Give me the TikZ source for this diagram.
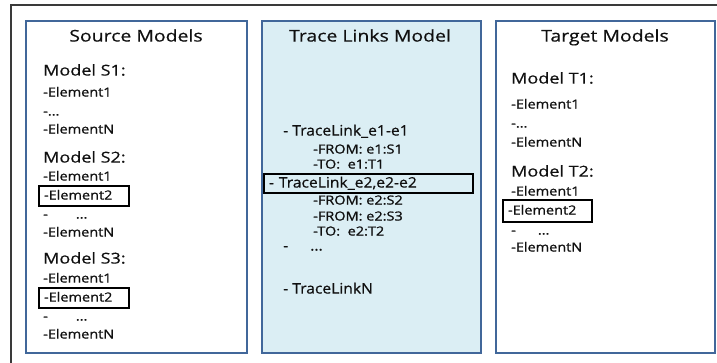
\documentclass[tikz,border=0pt]{standalone}
\usepackage{fontspec}
\setmainfont{Open Sans}
\newfontfamily\wfont[FakeStretch=1.2, FakeBold=0.5]{Open Sans}
\newfontfamily\bfont[FakeStretch=1.15, FakeBold=1.1]{Open Sans}
\newfontfamily\nfont[FakeStretch=1.08, FakeBold=0.5]{Open Sans}
\definecolor{panelblue}{HTML}{41679A}
\definecolor{tracefill}{HTML}{DBEEF4}
\definecolor{framegray}{HTML}{3A3A3A}
\definecolor{ink}{HTML}{101010}
\begin{document}
\begin{tikzpicture}[x=1pt,y=-1pt,
  panel/.style={draw=panelblue, line width=1.6pt, anchor=north west, inner sep=0pt},
  txt/.style={anchor=west, inner sep=0pt, text=ink, text height=0.714em, text depth=0pt},
  ttl/.style={txt, anchor=center, font=\wfont\fontsize{16.2}{18}\selectfont},
  model/.style={txt, font=\wfont\fontsize{15}{17}\selectfont},
  elem/.style={txt, font=\bfont\fontsize{12.6}{14}\selectfont},
  link/.style={txt, font=\nfont\fontsize{14.5}{17}\selectfont},
  sub/.style={txt, font=\bfont\fontsize{12.6}{14}\selectfont},
  hl/.style={draw=black, line width=2pt, inner xsep=5pt, minimum height=20pt, align=left},
]
\useasboundingbox (0,0) rectangle (717,363);
\clip (0,0) rectangle (717,363);

% outer frame (runs off the right and bottom edges)
\coordinate (fbl) at (11,370);
\coordinate (ftr) at (725,5);
\draw[framegray, line width=1.8pt] (fbl) |- (ftr);

% the three panels
\node[panel, minimum width=221pt, minimum height=332pt] (src) at (25,20) {};
\node[panel, fill=tracefill, minimum width=219pt, minimum height=332pt] (trc) at (261,20) {};
\node[panel, minimum width=219pt, minimum height=332pt] (tgt) at (495,20) {};

% panel titles
\node[ttl] (srcT) at (136,38) {Source Models};
\node[ttl] (trcT) at (370,38) {Trace Links Model};
\node[ttl] (tgtT) at (605,38) {Target Models};

% source models
\node[model] (s1) at (43,72) {Model S1:};
\node[elem] (s1a) at (43,93) {-Element1};
\node[elem] (s1b) at (43,112) {-...};
\node[elem] (s1n) at (43,130) {-ElementN};
\node[model] (s2) at (43,159) {Model S2:};
\node[elem] (s2a) at (43,177) {-Element1};
\node[elem, hl, text width=80pt, anchor=west] (s2b) at (38,196) {-Element2};
\node[elem] (s2c) at (43,215) {-\hspace{28pt}...};
\node[elem] (s2n) at (43,233) {-ElementN};
\node[model] (s3) at (43,260) {Model S3:};
\node[elem] (s3a) at (43,279) {-Element1};
\node[elem, hl, text width=80pt, anchor=west] (s3b) at (38,298) {-Element2};
\node[elem] (s3c) at (43,317) {-\hspace{28pt}...};
\node[elem] (s3n) at (43,335) {-ElementN};

% trace links
\node[link] (l1) at (283,132) {- TraceLink\_e1-e1};
\node[sub] (l1f) at (313,150) {-FROM: e1:S1};
\node[sub] (l1t) at (313,165) {-TO:\ \ e1:T1};
\node[link, hl, text width=199pt, minimum height=19pt, anchor=west] (l2) at (263,184) {- TraceLink\_e2,e2-e2};
\node[sub] (l2f) at (313,201) {-FROM: e2:S2};
\node[sub] (l2g) at (313,217) {-FROM: e2:S3};
\node[sub] (l2t) at (313,232) {-TO:\ \ e2:T2};
\node[link] (ld) at (283,247) {-\hspace{22pt}...};
\node[link] (ln) at (283,290) {- TraceLinkN};

% target models
\node[model] (t1) at (511,80) {Model T1:};
\node[elem] (t1a) at (511,105) {-Element1};
\node[elem] (t1b) at (511,124) {-...};
\node[elem] (t1n) at (511,143) {-ElementN};
\node[model] (t2) at (511,173) {Model T2:};
\node[elem] (t2a) at (511,192) {-Element1};
\node[elem, hl, text width=79pt, minimum height=22pt, anchor=west] (t2b) at (502,211) {-Element2};
\node[elem] (t2c) at (511,231) {-\hspace{22pt}...};
\node[elem] (t2n) at (511,248) {-ElementN};
\end{tikzpicture}
\end{document}
